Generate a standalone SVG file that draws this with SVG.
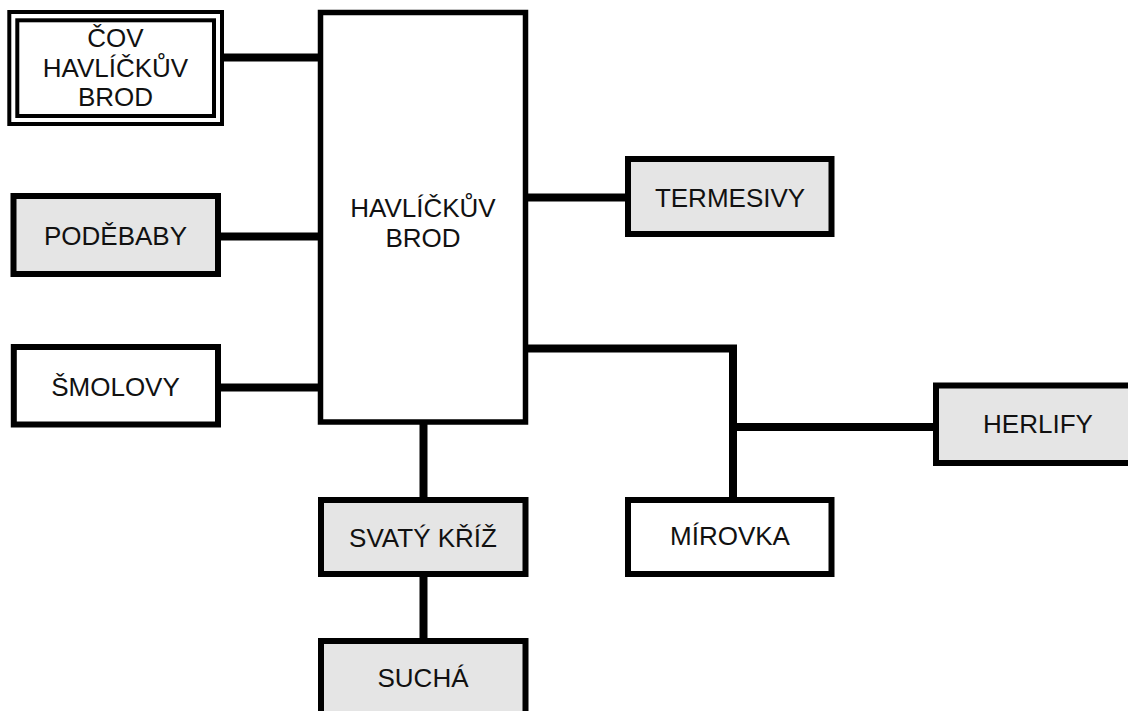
<svg xmlns="http://www.w3.org/2000/svg" width="1128" height="711" viewBox="0 0 1128 711">
<style>
.c{fill:none;stroke:#000;stroke-width:8;stroke-linecap:butt}
.b{stroke:#000;stroke-width:6}
.w{fill:#fff}
.g{fill:#e5e5e5}
.d{fill:none;stroke:#000;stroke-width:4}
text{font-family:"Liberation Sans",Arial,sans-serif;font-size:26px;fill:#111;text-anchor:middle}
</style>
<rect x="0" y="0" width="1128" height="711" fill="#fff"/>
<g id="connectors">
<path class="c" d="M222 57.5H320.5"/>
<path class="c" d="M218 236.5H320.5"/>
<path class="c" d="M218 387.5H320.5"/>
<path class="c" d="M525.5 197.5H628"/>
<path class="c" d="M525.5 348.5H733V500"/>
<path class="c" d="M733 427H936"/>
<path class="c" d="M423.5 422V500"/>
<path class="c" d="M423.5 574V641"/>
</g>
<g id="cov">
<rect x="9.3" y="12" width="212.7" height="112" fill="#fff" class="d"/>
<rect x="17.3" y="20.3" width="196.7" height="95.7" class="d"/>
<text x="115.5" y="47">ČOV</text>
<text x="115.5" y="77">HAVLÍČKŮV</text>
<text x="115.5" y="106">BROD</text>
</g>
<g id="havlickuv-brod">
<rect x="320.5" y="12.5" width="205" height="409.5" class="w" stroke="#000" stroke-width="5.5"/>
<text x="423" y="217">HAVLÍČKŮV</text>
<text x="423" y="247">BROD</text>
</g>
<g id="podebaby">
<rect x="13.5" y="196" width="204.5" height="78" class="b g"/>
<text x="115.5" y="245">PODĚBABY</text>
</g>
<g id="smolovy">
<rect x="13.8" y="347" width="204.2" height="77.5" class="b w"/>
<text x="115.5" y="396">ŠMOLOVY</text>
</g>
<g id="termesivy">
<rect x="628" y="159" width="203.5" height="75" class="b g"/>
<text x="730" y="207">TERMESIVY</text>
</g>
<g id="herlify">
<rect x="936" y="385.5" width="220" height="77.5" class="b g"/>
<text x="1038" y="433">HERLIFY</text>
</g>
<g id="mirovka">
<rect x="628" y="500" width="203.5" height="74" class="b w"/>
<text x="730" y="545">MÍROVKA</text>
</g>
<g id="svaty-kriz">
<rect x="321" y="500" width="204.5" height="74" class="b g"/>
<text x="423" y="547">SVATÝ KŘÍŽ</text>
</g>
<g id="sucha">
<rect x="321" y="641" width="204.5" height="100" class="b g"/>
<text x="423" y="687">SUCHÁ</text>
</g>
</svg>
